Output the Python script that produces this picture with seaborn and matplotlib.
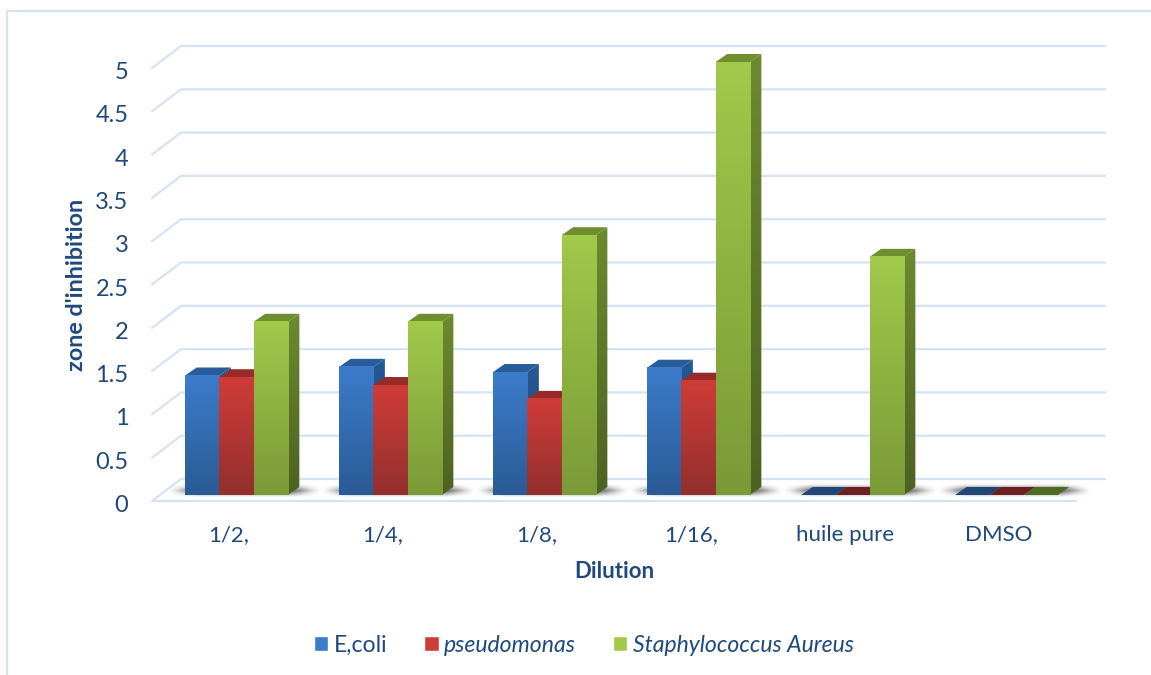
import numpy as np
import pandas as pd
import seaborn as sns
import matplotlib.pyplot as plt
from matplotlib.colors import LinearSegmentedColormap
from matplotlib.lines import Line2D
from matplotlib.patches import Patch, Polygon
from matplotlib.transforms import ScaledTranslation

dilutions = ['1/2,', '1/4,', '1/8,', '1/16,', 'huile pure', 'DMSO']
ecoli = [1.38, 1.48, 1.42, 1.47, 0, 0]
pseudomonas = [1.36, 1.27, 1.11, 1.32, 0, 0]
staph = [2, 2, 3, 5, 2.75, 0]
series_names = ['E,coli', 'pseudomonas', 'Staphylococcus Aureus']
yticks = [0, 0.5, 1, 1.5, 2, 2.5, 3, 3.5, 4, 4.5, 5]
ytick_labels = ['0', '0.5', '1', '1.5', '2', '2.5', '3', '3.5', '4', '4.5', '5']

# front top, front bottom, top face, side top, side bottom, flat (zero height)
colors = {
    'E,coli': ['#3c7ccb', '#2b5b96', '#295d99', '#255a94', '#1d4470', '#1f4677'],
    'pseudomonas': ['#cf3c38', '#93302e', '#962b2a', '#8a2826', '#6a1f1e', '#6c2020'],
    'Staphylococcus Aureus': ['#a1c94a', '#7a9a37', '#6f8e30', '#6c8a30', '#4d6221', '#4f6a25'],
}
text_color = '#1f497d'
grid_color = '#d5e3f5'

W, H = 1151, 675
PX_X = 154.0   # pixels per category
PX_Y = 86.6    # pixels per y unit
shift_x, shift_y = 7.5 / PX_X, 6 / PX_Y
depth_x, depth_y = 11.5 / PX_X, 8 / PX_Y
wall_x, wall_y = 29 / PX_X, 22 / PX_Y

df = pd.DataFrame({'Dilution': dilutions, series_names[0]: ecoli,
                   series_names[1]: pseudomonas, series_names[2]: staph})
long_df = df.melt(id_vars='Dilution', var_name='souche', value_name='zone')

sns.set_theme(style='white')
plt.rcParams['font.family'] = ['Lato', 'DejaVu Sans']

fig = plt.figure(figsize=(W / 100, H / 100), dpi=100)
ax_top = 501 - 5.6 * PX_Y
ax = fig.add_axes([152 / W, 1 - 501 / H, 924 / W, (501 - ax_top) / H])

sns.barplot(data=long_df, x='Dilution', y='zone', hue='souche', order=dilutions,
            hue_order=series_names, palette={k: v[0] for k, v in colors.items()},
            width=0.667, gap=0, legend=False, errorbar=None, ax=ax, zorder=3)

ax.set_xlim(-0.5, 5.5)
ax.set_ylim(0, 5.6)
xlim, ylim = ax.get_xlim(), ax.get_ylim()


def gradient(top, bottom, extent, zorder, clip=None):
    cmap = LinearSegmentedColormap.from_list('g', [bottom, top])
    im = ax.imshow(np.linspace(1, 0, 64).reshape(-1, 1), cmap=cmap, vmin=0, vmax=1,
                   extent=extent, aspect='auto', zorder=zorder, interpolation='bilinear')
    if clip is not None:
        im.set_clip_path(clip)
    return im


# walls
for v in yticks:
    ax.plot([-0.5, -0.5 + wall_x, 5.5 + wall_x], [v, v + wall_y, v + wall_y],
            color=grid_color, lw=1.6, clip_on=False, zorder=1)
ax.plot([-0.5, 5.5], [0, 0], color=grid_color, lw=1.6, clip_on=False, zorder=1)

# soft shadow on the floor under each group
yy, xx = np.mgrid[0:1:40j, 0:1:160j]
alpha = np.clip(np.minimum(xx, 1 - xx) / 0.2, 0, 1) * np.clip(np.minimum(yy, 1 - yy) / 0.5, 0, 1)
alpha = alpha * alpha * (3 - 2 * alpha)
shade = np.zeros(alpha.shape + (4,))
shade[..., :3] = 0.3
shade[..., 3] = alpha * 0.75
for i in range(len(dilutions)):
    left = i - 0.333 + shift_x - 20 / PX_X
    right = i + 0.333 + shift_x + 36 / PX_X
    im = ax.imshow(shade, extent=[left, right, shift_y - 3 / PX_Y, shift_y + 12 / PX_Y],
                   aspect='auto', zorder=2, interpolation='bilinear')
    im.set_clip_on(False)

# 3d faces: bars are pushed back from the front plane and given a gradient
bars = []
for name, cont in zip(series_names, ax.containers):
    for bar in cont:
        bars.append((bar.get_x(), name, bar))
bars.sort(key=lambda b: b[0])

z = 4
for x_pos, name, bar in bars:
    front_t, front_b, top_c, side_t, side_b, flat = colors[name]
    x0 = x_pos + shift_x
    x1 = x0 + bar.get_width()
    h = bar.get_height()
    y0 = shift_y
    y1 = y0 + h
    bar.set_visible(False)
    top_face = [(x0, y1), (x1, y1), (x1 + depth_x, y1 + depth_y), (x0 + depth_x, y1 + depth_y)]
    if h == 0:
        ax.add_patch(Polygon(top_face, closed=True, fc=flat, ec='none', zorder=z, clip_on=False))
        z += 1
        continue
    side = Polygon([(x1, y0), (x1 + depth_x, y0 + depth_y), (x1 + depth_x, y1 + depth_y), (x1, y1)],
                   closed=True, fc='none', ec='none', zorder=z, transform=ax.transData)
    ax.add_patch(side)
    gradient(side_t, side_b, [x1, x1 + depth_x, y0, y1 + depth_y], z, clip=side)
    ax.add_patch(Polygon(top_face, closed=True, fc=top_c, ec='none', zorder=z + 1, clip_on=False))
    gradient(front_t, front_b, [x0, x1, y0, y1], z + 2)
    z += 3

ax.set_xlim(xlim)
ax.set_ylim(ylim)

for s in ax.spines.values():
    s.set_visible(False)
ax.set_yticks(yticks, labels=ytick_labels)
ax.set_xticks(range(len(dilutions)), labels=dilutions)
ax.tick_params(axis='y', length=0, labelsize=17, labelcolor=text_color, pad=17)
ax.tick_params(axis='x', length=0, labelsize=16, labelcolor=text_color, pad=17)
# the labels sit a little under their gridline ends
down = ScaledTranslation(0, -2.5 / 100, fig.dpi_scale_trans)
for lab in ax.get_yticklabels():
    lab.set_transform(lab.get_transform() + down)
ax.set_xlabel('Dilution', fontsize=16, fontweight='bold', color=text_color, labelpad=12)
ax.set_ylabel("zone d'inhibition", fontsize=16.8, fontweight='bold', color=text_color)
ax.yaxis.set_label_coords((87 - 152) / 924, (501 - 285) / (501 - ax_top))

# outer frame
fig.add_artist(Line2D([7 / W, 7 / W, 1], [0, 1 - 11 / H, 1 - 11 / H], color=grid_color, lw=1.6))

handles = [Patch(facecolor=colors[n][0], label=n) for n in series_names]
leg = fig.legend(handles=handles, loc='center', bbox_to_anchor=(584 / W, 1 - 645 / H), ncol=3,
                 frameon=False, fontsize=16.6, handlelength=0.62, handleheight=0.62,
                 handletextpad=0.25, columnspacing=1.6, labelcolor=text_color)
for txt in leg.get_texts()[1:]:
    txt.set_style('italic')

fig.savefig('out.png', dpi=100)
